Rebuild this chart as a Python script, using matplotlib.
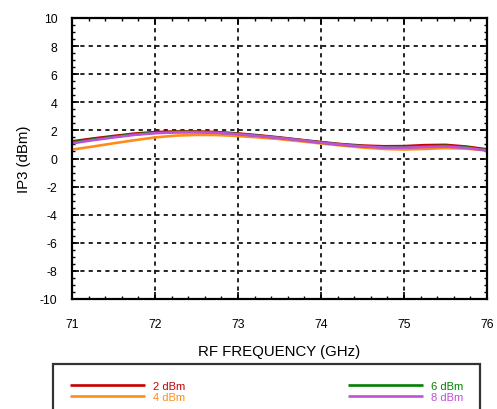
import matplotlib
matplotlib.use("Agg")
import matplotlib.pyplot as plt
from matplotlib.ticker import MultipleLocator

plt.rcParams['font.family'] = ['Liberation Sans', 'DejaVu Sans']
plt.rcParams['axes.unicode_minus'] = False

freq_ghz = [71.0, 71.25, 71.5, 71.75, 72.0, 72.25, 72.5, 72.75, 73.0, 73.25, 73.5,
            73.75, 74.0, 74.25, 74.5, 74.75, 75.0, 75.25, 75.5, 75.75, 76.0]
ip3_2dbm = [1.22, 1.42, 1.60, 1.77, 1.88, 1.92, 1.92, 1.88, 1.78, 1.65, 1.50,
            1.33, 1.17, 1.02, 0.92, 0.87, 0.88, 0.95, 0.97, 0.85, 0.65]
ip3_4dbm = [0.63, 0.85, 1.08, 1.30, 1.50, 1.63, 1.68, 1.67, 1.60, 1.50, 1.38,
            1.23, 1.07, 0.92, 0.78, 0.68, 0.64, 0.68, 0.74, 0.70, 0.57]
ip3_6dbm = [1.15, 1.36, 1.55, 1.72, 1.83, 1.89, 1.89, 1.85, 1.75, 1.62, 1.47,
            1.31, 1.14, 0.99, 0.88, 0.81, 0.80, 0.86, 0.90, 0.80, 0.60]
ip3_8dbm = [1.08, 1.30, 1.50, 1.68, 1.80, 1.86, 1.87, 1.83, 1.73, 1.60, 1.46,
            1.30, 1.13, 0.98, 0.86, 0.78, 0.77, 0.82, 0.85, 0.75, 0.57]

series_labels = ["2 dBm", "4 dBm", "6 dBm", "8 dBm"]
series_colors = ["#c80000", "#ff8c1a", "#008000", "#c050d8"]
x_ticks = [71, 72, 73, 74, 75, 76]
y_ticks = [-10, -8, -6, -4, -2, 0, 2, 4, 6, 8, 10]

fig = plt.figure(figsize=(4.97, 4.10), dpi=100)
ax = fig.add_axes([72/497, 1 - 300/410, 415/497, 281/410])

handles = []
for ys, lab, col in zip([ip3_2dbm, ip3_4dbm, ip3_6dbm, ip3_8dbm], series_labels, series_colors):
    h, = ax.plot(freq_ghz, ys, color=col, lw=1.9, label=lab, solid_capstyle='butt')
    handles.append(h)

ax.set_xlim(71, 76)
ax.set_ylim(-10, 10)
ax.set_xticks(x_ticks)
ax.set_yticks(y_ticks)
ax.xaxis.set_minor_locator(MultipleLocator(0.2))
ax.yaxis.set_minor_locator(MultipleLocator(0.5))
ax.tick_params(which='both', direction='in', top=True, right=True, labelsize=8.8)
ax.tick_params(which='major', length=5, width=1.2)
ax.tick_params(which='minor', length=2.5, width=1.0)
ax.tick_params(axis='x', pad=13.5)
ax.tick_params(axis='y', pad=10.5)
ax.grid(True, which='major', color='black', linestyle=(0, (2.5, 2.5)), linewidth=1.2)
for s in ax.spines.values():
    s.set_linewidth(1.6)

ax.set_xlabel("RF FREQUENCY (GHz)", fontsize=10.8, labelpad=10.5)
ax.set_ylabel("IP3 (dBm)", fontsize=10.8, labelpad=6.5)

leg = fig.legend(handles=handles, loc='upper left', ncol=2, mode='expand',
                 bbox_to_anchor=(53/497, 1 - 365/410, 427/497, 0.0),
                 frameon=True, fancybox=False, edgecolor='black',
                 fontsize=8, labelcolor='linecolor', handlelength=6.8,
                 handletextpad=0.7, labelspacing=0.12, borderpad=1.5,
                 borderaxespad=0)
leg.get_frame().set_linewidth(1.6)

fig.savefig("out.png", dpi=100)
